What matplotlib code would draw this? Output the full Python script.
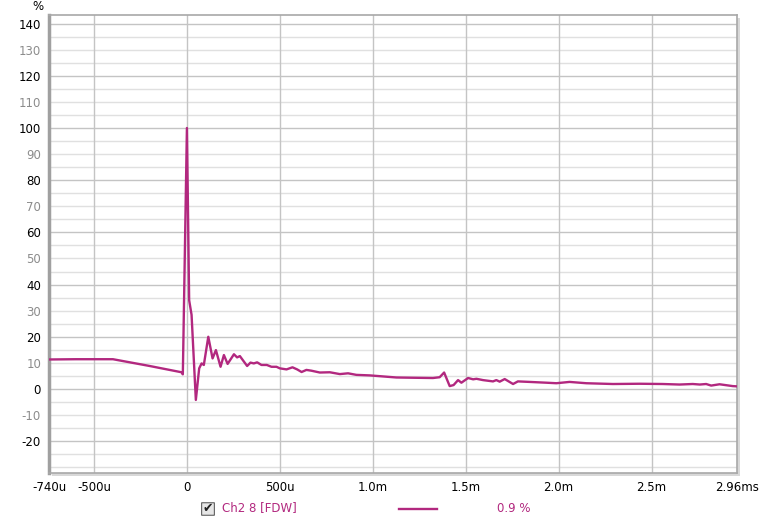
import numpy as np
import matplotlib
matplotlib.use("Agg")
import matplotlib.pyplot as plt
from matplotlib.patches import Rectangle, FancyBboxPatch
from matplotlib.lines import Line2D

# impulse response, time in ms, value in %
t_ms = [-0.74, -0.60, -0.398, -0.20, -0.029, -0.022, 0.0, 0.012, 0.025, 0.048,
        0.066, 0.079, 0.091, 0.115, 0.138, 0.156, 0.181, 0.199, 0.219, 0.253,
        0.270, 0.285, 0.324, 0.342, 0.360, 0.378, 0.401, 0.43, 0.455, 0.482,
        0.500, 0.536, 0.568, 0.593, 0.617, 0.643, 0.670, 0.715, 0.769, 0.823,
        0.867, 0.912, 0.984, 1.038, 1.127, 1.217, 1.324, 1.360, 1.384, 1.414,
        1.435, 1.459, 1.477, 1.513, 1.540, 1.558, 1.593, 1.647, 1.665, 1.683,
        1.710, 1.755, 1.781, 1.844, 1.934, 1.988, 2.059, 2.149, 2.292, 2.435,
        2.561, 2.651, 2.722, 2.76, 2.794, 2.821, 2.866, 2.937, 2.96]
pct = [11.3, 11.4, 11.4, 8.8, 6.4, 5.6, 100.0, 34.0, 28.4, -4.2,
       7.9, 9.8, 9.2, 20.0, 11.7, 14.9, 8.5, 13.0, 9.6, 13.3,
       12.1, 12.6, 8.8, 10.1, 9.8, 10.2, 9.2, 9.2, 8.5, 8.5,
       7.9, 7.5, 8.3, 7.5, 6.5, 7.3, 7.0, 6.3, 6.4, 5.7,
       6.0, 5.4, 5.2, 4.9, 4.4, 4.3, 4.2, 4.5, 6.3, 1.1,
       1.5, 3.4, 2.4, 4.2, 3.7, 3.9, 3.4, 2.9, 3.4, 2.8,
       3.8, 1.9, 2.9, 2.7, 2.4, 2.2, 2.7, 2.2, 1.9, 2.0,
       1.9, 1.7, 1.9, 1.7, 1.9, 1.3, 1.8, 1.1, 1.0]

x_ticks = [-0.74, -0.5, 0, 0.5, 1.0, 1.5, 2.0, 2.5, 2.96]
x_labels = ["-740u", "-500u", "0", "500u", "1.0m", "1.5m", "2.0m", "2.5m", "2.96ms"]
y_ticks = list(range(-20, 141, 10))

trace_color = "#b2287f"

fig = plt.figure(figsize=(7.6, 5.23), dpi=100)
ax = fig.add_axes([49.4 / 760, 1 - 473 / 523, (737 - 49.4) / 760, (473 - 15) / 523])
ax.set_zorder(2)

# shadow behind the plot frame
fig.patches.append(Rectangle((52 / 760, 1 - 476 / 523), (737 - 49.4) / 760, (473 - 15) / 523,
                             transform=fig.transFigure, facecolor="#d8d8d8", edgecolor="none", zorder=-1))

ax.set_xlim(-0.74, 2.96)
ax.set_ylim(-32.2, 143.3)

# grid: light every 5 %, darker every 20 %, verticals every 500u
for v in np.arange(-30, 141, 5):
    c = "#c4c4c4" if v % 20 == 0 else "#e0e0e0"
    ax.axhline(v, color=c, lw=1, zorder=1)
for v in x_ticks[1:-1]:
    ax.axvline(v, color="#c4c4c4", lw=1, zorder=1)

ax.plot(t_ms, pct, color=trace_color, lw=1.7, zorder=3, solid_joinstyle="round")

ax.set_xticks(x_ticks)
ax.set_xticklabels(x_labels)
ax.set_yticks(y_ticks)
ax.set_yticklabels([str(v) for v in y_ticks])
ax.tick_params(length=0, labelsize=8.5, pad=6)
for lab, v in zip(ax.get_yticklabels(), y_ticks):
    lab.set_color("#000000" if v % 20 == 0 else "#8c8c8c")

for side in ["top", "right", "bottom"]:
    ax.spines[side].set_color("#a8a8a8")
    ax.spines[side].set_linewidth(1.2)
ax.spines["left"].set_color("#a0a0a0")
ax.spines["left"].set_linewidth(2.5)

fig.text(38 / 760, 1 - 6 / 523, "%", fontsize=8.5, ha="center", va="center")

# legend row under the chart
fig.patches.append(FancyBboxPatch((202 / 760, 1 - 515 / 523), 12 / 760, 12 / 523,
                                  boxstyle="round,pad=0.0005", transform=fig.transFigure,
                                  facecolor="#e6e6e6", edgecolor="#606060", lw=0.8))
fig.text(208 / 760, 1 - 508.5 / 523, "\u2714", fontsize=9, ha="center", va="center", color="#202020")
fig.text(222 / 760, 1 - 508 / 523, "Ch2 8 [FDW]", fontsize=8.5, ha="left", va="center", color=trace_color)
fig.lines.append(Line2D([399 / 760, 437 / 760], [1 - 509 / 523, 1 - 509 / 523],
                        transform=fig.transFigure, color=trace_color, lw=1.7))
fig.text(497 / 760, 1 - 508 / 523, "0.9 %", fontsize=8.5, ha="left", va="center", color=trace_color)

fig.savefig("out.png", dpi=100)
